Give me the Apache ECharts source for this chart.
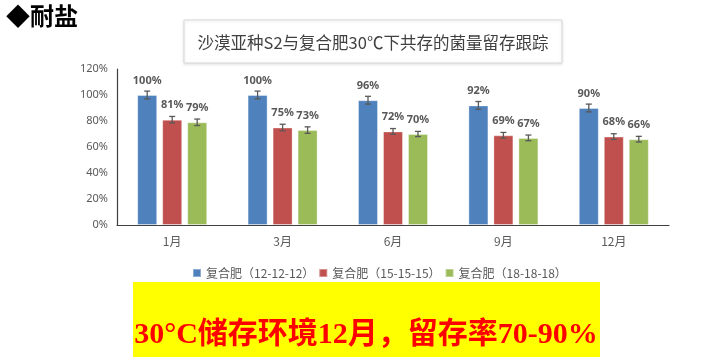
<!DOCTYPE html>
<html><head><meta charset="utf-8">
<script src="https://cdn.jsdelivr.net/npm/echarts@6/dist/echarts.min.js"></script>
<style>html,body{margin:0;padding:0;background:#fff}#c{width:727px;height:360px}</style>
</head><body><div id="c"></div>
<script>
const categories = ['1月','3月','6月','9月','12月'];
const seriesNames = ['复合肥（12-12-12）','复合肥（15-15-15）','复合肥（18-18-18）'];
const s1 = [100,100,96,92,90];
const s2 = [81,75,72,69,68];
const s3 = [79,73,70,67,66];
const e1 = [3,3,3,3,3];
const e2 = [2.5,2.5,2.2,2.2,2.2];
const e3 = [2.5,2.5,2,2.2,2.2];
const yTicks = [0,20,40,60,80,100,120];
const colors = ['#4F81BD','#C0504D','#9BBB59'];
const vals = [s1,s2,s3], errs = [e1,e2,e3];

const chart = echarts.init(document.getElementById('c'));
const BW = 20, GAP = 5;
function errSeries(idx){
  return {
    type:'custom', silent:true, z:10,
    data: vals[idx].map((v,i)=>[i,v,errs[idx][i]]),
    encode:{x:0,y:1},
    renderItem:(params,api)=>{
      const cx = api.coord([api.value(0),0])[0] + (idx-1)*(BW+GAP);
      const t = api.coord([api.value(0),api.value(1)+api.value(2)])[1];
      const b = api.coord([api.value(0),api.value(1)-api.value(2)])[1];
      const st = {stroke:'#595959', lineWidth:1.3};
      return {type:'group', children:[
        {type:'line', shape:{x1:cx,y1:t,x2:cx,y2:b}, style:st},
        {type:'line', shape:{x1:cx-3,y1:t,x2:cx+3,y2:t}, style:st},
        {type:'line', shape:{x1:cx-3,y1:b,x2:cx+3,y2:b}, style:st}
      ]};
    }
  };
}
const barSeries = vals.map((v,i)=>({
  name: seriesNames[i], type:'bar', data:v, barWidth:BW, barGap:(GAP/BW*100)+'%',
  itemStyle:{color:colors[i], borderColor:'rgba(255,255,255,0.35)', borderWidth:1},
  label:{show:true, position:'top', distance:9, formatter:'{c}%', color:'#595959', fontSize:11, fontWeight:'bold', fontFamily:'Noto Sans'}
}));
chart.setOption({
  animation:false,
  grid:{left:117, right:58, top:69, bottom:135},
  legend:{data:seriesNames, left:187, top:262, icon:'rect', itemWidth:8, itemHeight:8, itemGap:4,
    textStyle:{color:'#595959', fontSize:12, fontFamily:'Noto Sans CJK SC'}},
  xAxis:{type:'category', data:categories, axisTick:{show:false},
    axisLine:{lineStyle:{color:'#404040', width:1.2}},
    axisLabel:{color:'#595959', fontSize:12, margin:10, fontFamily:'Noto Sans CJK SC'}},
  yAxis:{type:'value', min:0, max:120, interval:20, splitLine:{show:false},
    axisLine:{show:true, lineStyle:{color:'#404040', width:1.2}}, axisTick:{show:false},
    axisLabel:{color:'#595959', fontSize:11, margin:9, fontFamily:'Noto Sans', formatter:v=>yTicks.includes(v)?v+'%':''}},
  series: barSeries.concat([errSeries(0),errSeries(1),errSeries(2)]),
  graphic:[
    {type:'text', left:6, top:4, style:{text:'◆耐盐', fontSize:24, fontWeight:'bold', fill:'#000', fontFamily:'Noto Sans CJK SC'}},
    {type:'rect', shape:{x:184,y:20,width:378,height:43}, style:{fill:'#fff', stroke:'#d9d9d9', lineWidth:1, shadowBlur:3, shadowColor:'rgba(0,0,0,0.12)', shadowOffsetY:1}},
    {type:'text', x:373, y:43, style:{text:'沙漠亚种S2与复合肥30℃下共存的菌量留存跟踪', fontSize:16.5, fill:'#404040', align:'center', verticalAlign:'middle', fontFamily:'Noto Sans CJK SC'}},
    {type:'rect', shape:{x:133,y:282,width:467,height:75}, style:{fill:'#FFFF00'}},
    {type:'text', x:366, y:335, style:{text:'30°C储存环境12月，留存率70-90%', fontSize:30, fontWeight:'bold', fill:'#FF0000', align:'center', verticalAlign:'middle', fontFamily:'Liberation Serif, Noto Sans CJK SC'}}
  ]
});
</script></body></html>
